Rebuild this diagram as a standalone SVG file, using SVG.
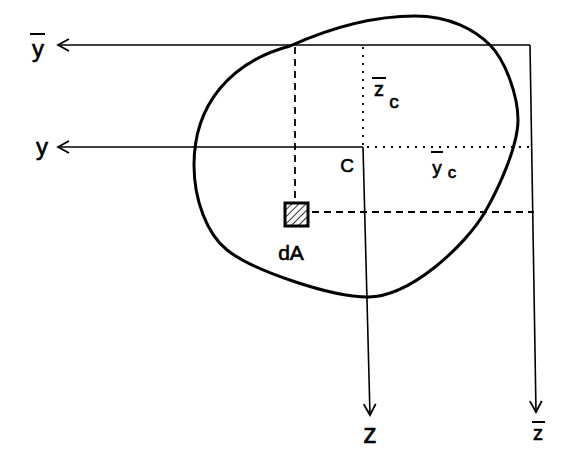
<svg xmlns="http://www.w3.org/2000/svg" width="573" height="467" viewBox="0 0 573 467">
  <style>
    .ax { fill: none; stroke: #000; stroke-width: 1.6; }
    .dash { fill: none; stroke: #000; stroke-width: 1.8; stroke-dasharray: 7 5; }
    .dot { fill: none; stroke: #000; stroke-width: 1.8; stroke-dasharray: 2 6; }
    .blob { fill: none; stroke: #000; stroke-width: 3; }
    .lbl { font-family: "Liberation Sans", Arial, sans-serif; fill: #000; stroke: #000; stroke-width: 0.6; text-anchor: middle; }
    .bar { stroke: #000; stroke-width: 2; }
  </style>
  <defs>
    <marker id="arr" viewBox="0 0 14 14" refX="12" refY="7" markerWidth="14" markerHeight="14" markerUnits="userSpaceOnUse" orient="auto">
      <path d="M1,1 L12,7 L1,13" fill="none" stroke="#000" stroke-width="1.8"/>
    </marker>
    <pattern id="hatch" patternUnits="userSpaceOnUse" width="5" height="5" patternTransform="rotate(45)">
      <line x1="0" y1="0" x2="0" y2="5" stroke="#000" stroke-width="1.6"/>
    </pattern>
  </defs>
  <rect width="573" height="467" fill="#fff"/>

  <g id="section">
    <path class="blob" d="M 194 165 C 194 105 230 62 290 46 C 330 28 370 16 415 16 C 450 16 475 30 490 45 C 505 60 518 95 518 120 C 518 145 500 186 485 212 C 465 246 410 297 368 297 C 330 297 252 270 227 250 C 207 234 194 200 194 165 Z"/>
  </g>

  <g id="connectors">
    <path class="ax" d="M 530 45 L 58 45" marker-end="url(#arr)"/>
    <path class="ax" d="M 530 45 L 536 412" marker-end="url(#arr)"/>
    <path class="ax" d="M 363 147 L 58 147" marker-end="url(#arr)"/>
    <path class="ax" d="M 363 147 L 370 415" marker-end="url(#arr)"/>
    <path class="dash" d="M 295 47 L 295 202"/>
    <path class="dash" d="M 312 212 L 534 212"/>
    <path class="dot" d="M 363 47 L 363 145"/>
    <path class="dot" d="M 367 147 L 534 147"/>
  </g>

  <g id="dA">
    <rect x="285" y="203" width="23" height="23" fill="url(#hatch)" stroke="#000" stroke-width="3"/>
    <text class="lbl" x="291" y="260" font-size="21">dA</text>
  </g>

  <g id="labels">
    <text class="lbl" x="38" y="57" font-size="24">y</text>
    <line class="bar" x1="30" y1="34" x2="45" y2="34"/>
    <text class="lbl" x="42" y="155" font-size="24">y</text>
    <text class="lbl" x="347" y="172" font-size="19">C</text>
    <text class="lbl" x="370" y="443" font-size="27">z</text>
    <text class="lbl" x="538" y="440" font-size="20">z</text>
    <line class="bar" x1="532" y1="422" x2="545" y2="422"/>
    <text class="lbl" x="379" y="96" font-size="20">z</text>
    <line class="bar" x1="372" y1="78" x2="386" y2="78"/>
    <text class="lbl" x="394" y="108" font-size="19">c</text>
    <text class="lbl" x="437" y="174" font-size="19">y</text>
    <line class="bar" x1="431" y1="152" x2="443" y2="152"/>
    <text class="lbl" x="452" y="178" font-size="17">c</text>
  </g>
</svg>
